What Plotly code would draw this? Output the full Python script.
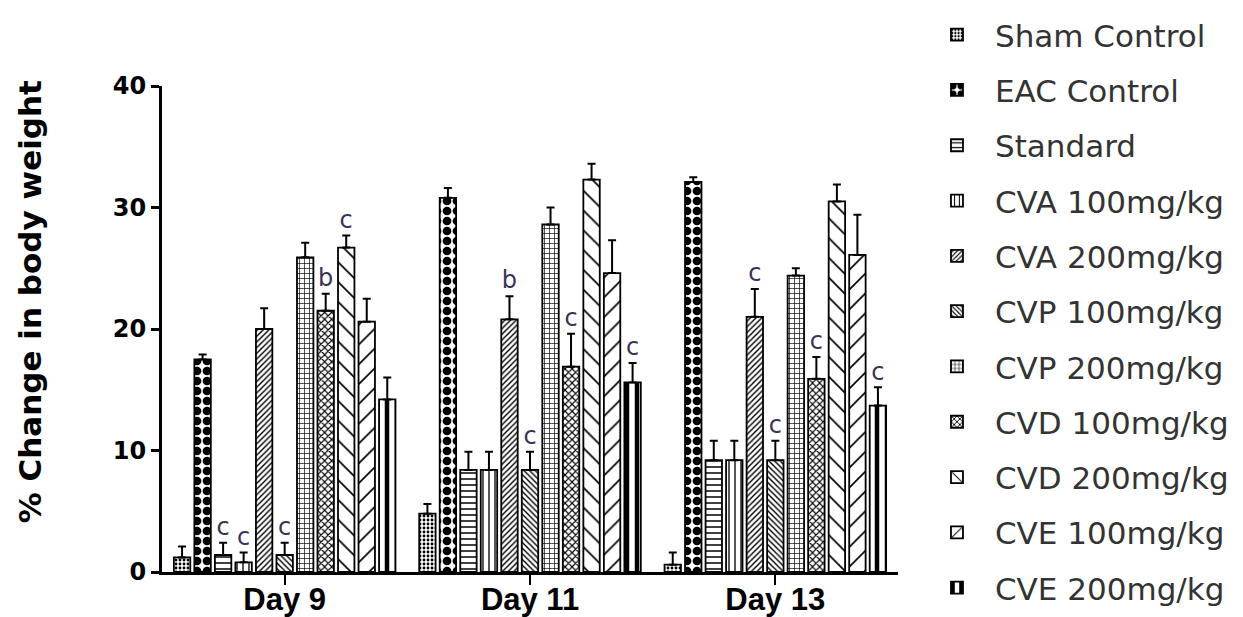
import plotly.graph_objects as go

days = ["Day 9", "Day 11", "Day 13"]
groups = ["Sham Control", "EAC Control", "Standard", "CVA 100mg/kg", "CVA 200mg/kg",
          "CVP 100mg/kg", "CVP 200mg/kg", "CVD 100mg/kg", "CVD 200mg/kg",
          "CVE 100mg/kg", "CVE 200mg/kg"]

# mean values per group: [Day 9, Day 11, Day 13]
sham = [1.2, 4.8, 0.6]
eac = [17.5, 30.8, 32.1]
standard = [1.4, 8.4, 9.2]
cva100 = [0.8, 8.4, 9.2]
cva200 = [20.0, 20.8, 21.0]
cvp100 = [1.4, 8.4, 9.2]
cvp200 = [25.9, 28.6, 24.4]
cvd100 = [21.5, 16.9, 15.9]
cvd200 = [26.7, 32.3, 30.5]
cve100 = [20.6, 24.6, 26.1]
cve200 = [14.2, 15.6, 13.7]

# SEM (upper error bars)
sham_err = [0.9, 0.8, 1.0]
eac_err = [0.4, 0.8, 0.4]
standard_err = [1.0, 1.5, 1.6]
cva100_err = [0.8, 1.5, 1.6]
cva200_err = [1.7, 1.9, 2.3]
cvp100_err = [1.0, 1.5, 1.6]
cvp200_err = [1.2, 1.4, 0.6]
cvd100_err = [1.4, 2.7, 1.8]
cvd200_err = [1.0, 1.3, 1.4]
cve100_err = [1.9, 2.7, 3.3]
cve200_err = [1.8, 1.6, 1.5]

# significance letters
sham_sig = ["", "", ""]
eac_sig = ["", "", ""]
standard_sig = ["c", "", ""]
cva100_sig = ["c", "", ""]
cva200_sig = ["", "b", "c"]
cvp100_sig = ["c", "c", "c"]
cvp200_sig = ["", "", ""]
cvd100_sig = ["b", "c", "c"]
cvd200_sig = ["c", "", ""]
cve100_sig = ["", "", ""]
cve200_sig = ["", "c", "c"]

y_title = "% Change in body weight"

values = [sham, eac, standard, cva100, cva200, cvp100, cvp200, cvd100, cvd200, cve100, cve200]
errors = [sham_err, eac_err, standard_err, cva100_err, cva200_err, cvp100_err, cvp200_err,
          cvd100_err, cvd200_err, cve100_err, cve200_err]
sigs = [sham_sig, eac_sig, standard_sig, cva100_sig, cva200_sig, cvp100_sig, cvp200_sig,
        cvd100_sig, cvd200_sig, cve100_sig, cve200_sig]

patterns = [
    dict(shape=".", size=4, solidity=0.4),
    dict(shape=".", size=10, solidity=0.6),
    dict(shape="-", size=6, solidity=0.25),
    dict(shape="|", size=6, solidity=0.22),
    dict(shape="/", size=4, solidity=0.35),
    dict(shape="\\", size=4, solidity=0.35),
    dict(shape="+", size=5, solidity=0.25),
    dict(shape="x", size=5, solidity=0.4),
    dict(shape="\\", size=14, solidity=0.12),
    dict(shape="/", size=14, solidity=0.12),
    dict(shape="|", size=10, solidity=0.45),
]

fig = go.Figure()
for i, (name, v, e, p) in enumerate(zip(groups, values, errors, patterns)):
    fig.add_trace(go.Bar(
        x=days, y=v, name=name, offsetgroup=str(i), alignmentgroup="a",
        legendgroup=name,
        marker=dict(color="white", line=dict(color="black", width=1.8),
                    pattern=dict(fgcolor="black", bgcolor="white", fillmode="replace", **p)),
        error_y=dict(type="data", symmetric=False, array=e, arrayminus=[0, 0, 0],
                     color="black", thickness=2, width=4),
    ))

for i, (name, v, e, s) in enumerate(zip(groups, values, errors, sigs)):
    fig.add_trace(go.Scatter(
        x=days, y=[a + b + 0.15 for a, b in zip(v, e)], text=s, mode="text",
        textposition="top center", offsetgroup=str(i), alignmentgroup="a",
        orientation="v", showlegend=False, hoverinfo="skip",
        textfont=dict(family="DejaVu Sans", size=24, color="#3b3154"),
    ))

fig.add_annotation(
    text=y_title, textangle=-90, xref="paper", yref="paper", x=-0.18, y=0.556,
    xanchor="center", yanchor="middle", showarrow=False,
    font=dict(family="DejaVu Sans", size=31, color="black", weight="bold"),
)

fig.update_layout(
    width=1235, height=609,
    paper_bgcolor="white", plot_bgcolor="white",
    margin=dict(l=154, r=345, t=78, b=45, autoexpand=False),
    barmode="group", bargap=0.08, bargroupgap=0.2,
    scattermode="group", scattergap=0.08,
    showlegend=True,
    legend=dict(x=1.0285, y=1.1605, xanchor="left", yanchor="top", maxheight=1,
                font=dict(family="DejaVu Sans", size=31, color="#333333"),
                tracegroupgap=12, traceorder="grouped", itemwidth=66,
                bgcolor="rgba(0,0,0,0)"),
    xaxis=dict(range=[-0.5, 2.5], showline=True, linecolor="black", linewidth=3,
               ticks="outside", ticklen=10, tickwidth=2, tickcolor="black",
               ticklabelstandoff=-12,
               tickfont=dict(family="Arial, Liberation Sans", size=31, color="black", weight="bold"),
               showgrid=False, zeroline=False),
    yaxis=dict(range=[0, 40], tickvals=[0, 10, 20, 30, 40], showline=True, linecolor="black",
               linewidth=3, ticks="outside", ticklen=8, tickwidth=3, tickcolor="black",
               tickfont=dict(family="DejaVu Sans", size=24, color="black", weight="bold"),
               showgrid=False, zeroline=False),
)

fig.write_html("out.html")
